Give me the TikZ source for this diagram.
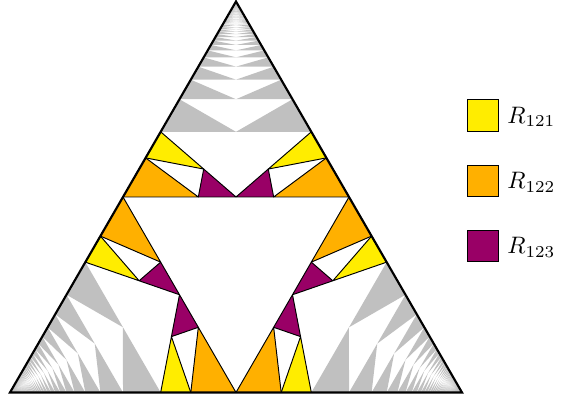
\documentclass[tikz,border=0pt]{standalone}
\definecolor{cyel}{RGB}{255,237,0}
\definecolor{corg}{RGB}{255,176,0}
\definecolor{cmag}{RGB}{153,0,102}
\definecolor{cgry}{RGB}{192,192,192}
\begin{document}
\begin{tikzpicture}[x=0.42pt,y=-0.42pt,
  cell/.style={draw=black,line width=0.4pt,line join=round},
  greycell/.style={fill=cgry},
  outer/.style={draw=black,line width=0.9pt,line join=miter},
  legbox/.style={draw=black,line width=0.4pt,minimum size=13.4pt,inner sep=0pt},
  leglab/.style={inner sep=0pt,anchor=west}]
\useasboundingbox (0,0) rectangle (561,398);
\coordinate (A) at (236,1.5);
\coordinate (B) at (10,392.5);
\coordinate (C) at (462,392.5);
% grey cells R_i^n R_j (n >= 2)
\foreach \I/\J/\K in {A/B/C,A/C/B,B/A/C,B/C/A,C/A/B,C/B/A}{
  \foreach \n in {2,...,150}{
    \pgfmathsetmacro{\pa}{(\n+1)/(\n+2)}
    \pgfmathsetmacro{\pb}{1/(\n+2)}
    \pgfmathsetmacro{\qa}{\n/(\n+1)}
    \pgfmathsetmacro{\qb}{1/(\n+1)}
    \pgfmathsetmacro{\rb}{1/(2*\n+2)}
    \fill[greycell] (barycentric cs:\I=\pa,\J=\pb,\K=0) -- (barycentric cs:\I=\qa,\J=\qb,\K=0) -- (barycentric cs:\I=\qa,\J=\rb,\K=\rb) -- cycle;
  }
}
% coloured level-3 cells R_iji, R_ijj, R_ijk
\foreach \I/\J/\K in {A/B/C,A/C/B,B/A/C,B/C/A,C/A/B,C/B/A}{
  \filldraw[cell,fill=cyel] (barycentric cs:\I=2,\J=1,\K=0) -- (barycentric cs:\I=3,\J=2,\K=0) -- (barycentric cs:\I=4,\J=2,\K=1) -- cycle;
  \filldraw[cell,fill=corg] (barycentric cs:\I=3,\J=2,\K=0) -- (barycentric cs:\I=1,\J=1,\K=0) -- (barycentric cs:\I=3,\J=2,\K=1) -- cycle;
  \filldraw[cell,fill=cmag] (barycentric cs:\I=4,\J=2,\K=1) -- (barycentric cs:\I=3,\J=2,\K=1) -- (barycentric cs:\I=2,\J=1,\K=1) -- cycle;
}
\draw[outer] (A) -- (B) -- (C) -- cycle;
% legend
\node[legbox,fill=cyel] (k1) at (483,115.5) {};
\node[legbox,fill=corg] (k2) at (483,181) {};
\node[legbox,fill=cmag] (k3) at (483,246) {};
\node[leglab] (l1) at (507,117) {$R_{121}$};
\node[leglab] (l2) at (507,182.5) {$R_{122}$};
\node[leglab] (l3) at (507,247.5) {$R_{123}$};
\end{tikzpicture}
\end{document}
